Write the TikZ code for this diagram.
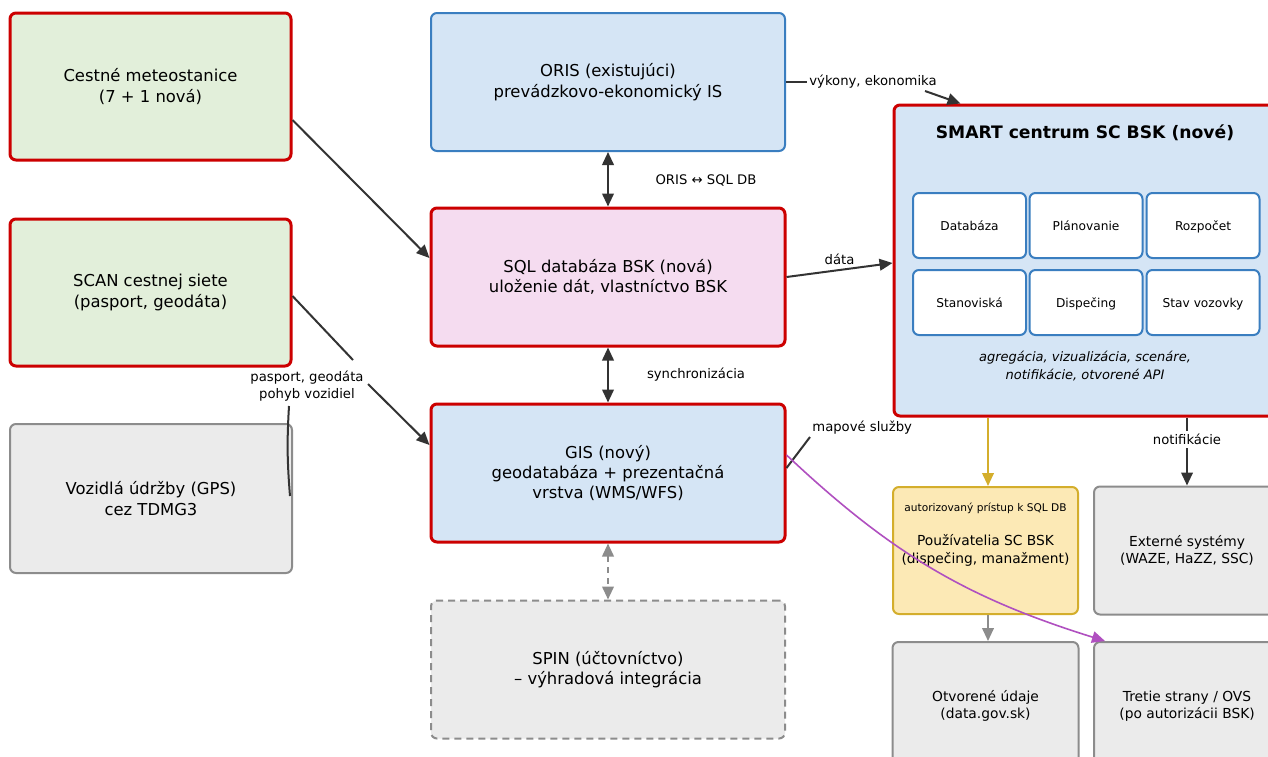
\documentclass[tikz,border=0pt]{standalone}
\usepackage{fontspec}
\setmainfont{DejaVu Sans}
\usetikzlibrary{arrows.meta,calc}
\definecolor{redB}{RGB}{204,0,0}
\definecolor{greenF}{RGB}{226,239,218}
\definecolor{blueF}{RGB}{213,229,245}
\definecolor{blueB}{RGB}{58,126,192}
\definecolor{pinkF}{RGB}{245,220,240}
\definecolor{grayF}{RGB}{235,235,235}
\definecolor{grayB}{RGB}{140,140,140}
\definecolor{yelF}{RGB}{252,233,181}
\definecolor{yelB}{RGB}{212,174,44}
\definecolor{purpA}{RGB}{176,80,192}
\definecolor{darkA}{RGB}{51,51,51}
\begin{document}
\begin{tikzpicture}[x=0.5pt,y=-0.5pt,
  box/.style={rounded corners=3pt, align=center, inner sep=0pt, font=\fontsize{8.2}{10.2}\selectfont},
  redbox/.style={box, draw=redB, line width=1.5pt},
  bluebox/.style={box, draw=blueB, fill=blueF, line width=1pt},
  graybox/.style={box, draw=grayB, fill=grayF, line width=1pt},
  smallbox/.style={box, draw=grayB, fill=grayF, line width=1pt, font=\fontsize{6.9}{8.6}\selectfont, minimum width=93pt, minimum height=64pt},
  inbox/.style={box, draw=blueB, fill=white, line width=1pt, font=\fontsize{6.1}{7.5}\selectfont, minimum width=56.5pt, minimum height=32.5pt, text height=0.75em, text depth=0.22em},
  bigw/.style={minimum width=177pt, minimum height=69pt},
  leftw/.style={minimum width=140.5pt, minimum height=73.5pt},
  lbl/.style={font=\fontsize{6.6}{8.5}\selectfont, align=center, inner sep=1pt},
  tip/.style={Triangle[length=6.5pt,width=5.8pt]},
  arr/.style={draw=darkA, line width=1pt, -{Triangle[length=6.5pt,width=5.8pt]}},
  darr/.style={draw=darkA, line width=1pt, {Triangle[length=6.5pt,width=5.8pt]}-{Triangle[length=6.5pt,width=5.8pt]}},
  plain/.style={draw=darkA, line width=1pt}
]
\useasboundingbox[fill=white] (0,0) rectangle (1268,756);

% left column
\node[redbox, fill=greenF, leftw] (met) at (150.5,86.5) {Cestné meteostanice\\(7 + 1 nová)};
\node[redbox, fill=greenF, leftw] (scan) at (150.5,292.5) {SCAN cestnej siete\\(pasport, geodáta)};
\node[graybox, minimum width=141pt, minimum height=74.5pt] (voz) at (151,498.5) {Vozidlá údržby (GPS)\\cez TDMG3};

% middle column
\node[bluebox, bigw] (oris) at (608,82) {ORIS (existujúci)\\prevádzkovo-ekonomický IS};
\node[redbox, fill=pinkF, bigw] (sql) at (608,277) {SQL databáza BSK (nová)\\uloženie dát, vlastníctvo BSK};
\node[redbox, fill=blueF, bigw] (gis) at (608,473) {GIS (nový)\\geodatabáza + prezentačná\\vrstva (WMS/WFS)};
\node[graybox, bigw, dash pattern=on 3.5pt off 2.5pt] (spin) at (608,669.5) {SPIN (účtovníctvo)\\– výhradová integrácia};

% SMART centrum
\node[redbox, fill=blueF, minimum width=190.5pt, minimum height=155.5pt] (smart) at (1084.5,260.5) {};
\node[font=\fontsize{8.6}{10}\selectfont\bfseries] (smartT) at (1085,133) {SMART centrum SC BSK (nové)};
\node[inbox] (ib1) at (969.5,225.5) {Databáza};
\node[inbox] (ib2) at (1086,225.5) {Plánovanie};
\node[inbox] (ib3) at (1203,225.5) {Rozpočet};
\node[inbox] (ib4) at (969.5,302.5) {Stanoviská};
\node[inbox] (ib5) at (1086,302.5) {Dispečing};
\node[inbox] (ib6) at (1203,302.5) {Stav vozovky};
\node[font=\fontsize{6.5}{8.6}\selectfont\itshape, align=center] (smartI) at (1085,366) {agregácia, vizualizácia, scenáre,\\notifikácie, otvorené API};

% bottom right
\node[box, draw=yelB, fill=yelF, line width=1pt, font=\fontsize{6.9}{8.6}\selectfont, minimum width=92.5pt, minimum height=63.5pt] (user) at (985.5,550.5) {Používatelia SC BSK\\(dispečing, manažment)};
\node[font=\fontsize{5.3}{6}\selectfont] (userT) at (985.5,508) {autorizovaný prístup k SQL DB};
\node[smallbox] (ext) at (1187,550.5) {Externé systémy\\(WAZE, HaZZ, SSC)};
\node[smallbox] (open) at (985.5,706) {Otvorené údaje\\(data.gov.sk)};
\node[smallbox] (third) at (1187,706) {Tretie strany / OVS\\(po autorizácii BSK)};

% connectors
\draw[arr] ([yshift=-16.75pt]met.east) -- ([yshift=9.5pt]sql.west);

\node[lbl] (lpg) at (307,386) {pasport, geodáta\\pohyb vozidiel};
\coordinate (c1) at (353,360);
\coordinate (c2) at (368,384);
\draw[plain] ([yshift=-1.75pt]scan.east) -- (c1);
\draw[arr] (c2) -- ([yshift=14pt]gis.west);
\coordinate (v1) at (290,496);
\coordinate (v2) at (289,406);
\draw[plain] (v1) to[bend left=4] (v2);

\draw[darr] (oris.south) -- (sql.north);
\node[lbl] (lorsql) at (706,180) {ORIS ↔ SQL DB};
\draw[darr] (sql.south) -- (gis.north);
\node[lbl] (lsync) at (696,375) {synchronizácia};
\draw[draw=grayB, line width=1pt, dash pattern=on 3pt off 2.5pt, {Triangle[length=6.5pt,width=5.8pt]}-{Triangle[length=6.5pt,width=5.8pt]}] (gis.south) -- (spin.north);

\node[lbl, anchor=west] (lvyk) at (807,82) {výkony, ekonomika};
\coordinate (c3) at (925,91);
\draw[plain] (oris.east) -- (lvyk.west);
\draw[arr] (c3) -- ([xshift=34pt]smart.north west);

\draw[arr] (sql.east) -- node[lbl, above, pos=0.5, yshift=1pt] (ldata) {dáta} ([yshift=-1.25pt]smart.west);

\node[lbl, anchor=south west] (lmap) at (810,437) {mapové služby};
\draw[plain] ([yshift=2.5pt]gis.east) -- (lmap.south west);

\draw[draw=purpA, line width=0.8pt, -{Triangle[length=6.5pt,width=5.8pt]}] ([yshift=9pt]gis.east) to[bend right=13] ([xshift=6pt]third.north west);

\draw[draw=yelB, line width=1pt, -{Triangle[length=6.5pt,width=5.8pt]}] ([xshift=1.25pt]smart.south -| user.north) -- ([xshift=1.25pt]user.north);
\draw[arr] (smart.south -| ext.north) -- node[lbl, fill=white, pos=0.32, inner sep=1.5pt] (lnot) {notifikácie} (ext.north);
\draw[draw=grayB, line width=1pt, -{Triangle[length=6.5pt,width=5.8pt]}] ([xshift=1.25pt]user.south) -- ([xshift=1.25pt]open.north);
\end{tikzpicture}
\end{document}
